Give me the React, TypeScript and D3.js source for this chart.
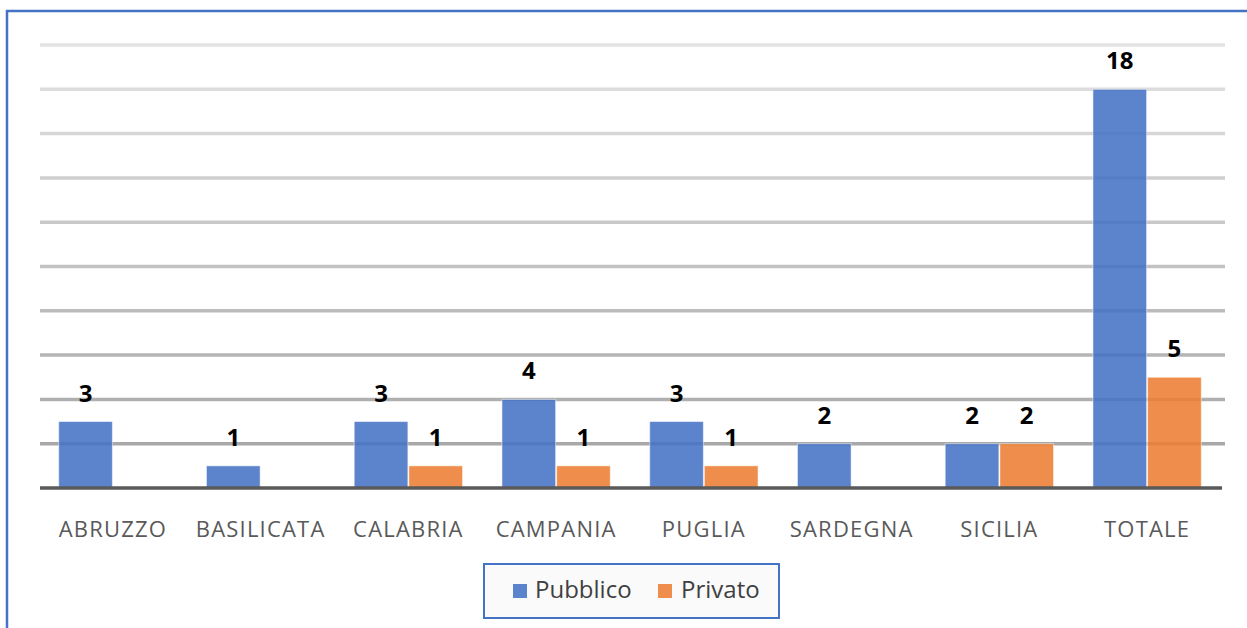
import React from "react";
import * as d3 from "d3";

const categories = ["ABRUZZO", "BASILICATA", "CALABRIA", "CAMPANIA", "PUGLIA", "SARDEGNA", "SICILIA", "TOTALE"];
const seriesNames = ["Pubblico", "Privato"];
const pubblico = [3, 1, 3, 4, 3, 2, 2, 18];
const privato = [0, 0, 1, 1, 1, 0, 2, 5];
const gridValues = [2, 4, 6, 8, 10, 12, 14, 16, 18, 20];
const colors = ["#4472C4", "#ED7D31"];

const W = 1247;
const H = 628;
const FONT = "'Open Sans', 'Noto Sans', sans-serif";

export default function App() {
  const x = d3.scaleBand<string>().domain(categories).range([39, 1221]).paddingInner(0.26).paddingOuter(0.13);
  const xs = d3.scaleBand<string>().domain(seriesNames).range([0, x.bandwidth()]).padding(0);
  const y = d3.scaleLinear().domain([0, 20]).range([488, 45]);
  const gridColor = d3.scaleLinear<string>().domain([2, 20]).range(["#a8a8a8", "#e3e3e3"]);
  const series = [pubblico, privato];

  return (
    <svg width={W} height={H} style={{ position: "absolute", left: 0, top: 0, background: "#fff" }}>
      <rect x={7} y={11} width={1400} height={800} fill="#fff" stroke="#4472C4" strokeWidth={2.5} />
      {gridValues.map((v) => (
        <line key={v} x1={40} x2={1225} y1={y(v)} y2={y(v)} stroke={gridColor(v)} strokeWidth={3.5} />
      ))}
      {categories.map((c, i) => (
        <g key={c} transform={`translate(${x(c)},0)`}>
          {series.map((s, si) =>
            s[i] > 0 ? (
              <rect
                key={si}
                x={xs(seriesNames[si])! + 0.5}
                y={y(s[i])}
                width={xs.bandwidth() - 1}
                height={y(0) - y(s[i])}
                fill={colors[si]}
                fillOpacity={0.87}
                stroke="#ffffff"
                strokeOpacity={0.5}
                strokeWidth={1}
              />
            ) : null
          )}
          {series.map((s, si) =>
            s[i] > 0 ? (
              <text
                key={"l" + si}
                x={xs(seriesNames[si])! + xs.bandwidth() / 2}
                y={y(s[i]) - 20}
                textAnchor="middle"
                fontFamily={FONT}
                fontWeight="bold"
                fontSize={24}
                fill="#000"
              >
                {s[i]}
              </text>
            ) : null
          )}
          <text
            x={x.bandwidth() / 2}
            y={537}
            textAnchor="middle"
            fontFamily={FONT}
            fontSize={22}
            letterSpacing={1.2}
            fill="#595959"
          >
            {c}
          </text>
        </g>
      ))}
      <line x1={40} x2={1222} y1={y(0)} y2={y(0)} stroke="#595959" strokeWidth={3.5} />
      <g>
        <rect x={484} y={564} width={295} height={54} fill="#fafafa" stroke="#4472C4" strokeWidth={2} />
        <rect x={513} y={584} width={14} height={14} fill={colors[0]} fillOpacity={0.87} />
        <text x={535} y={598} fontFamily={FONT} fontSize={24} fill="#404040">{seriesNames[0]}</text>
        <rect x={658} y={584} width={14} height={14} fill={colors[1]} fillOpacity={0.87} />
        <text x={681} y={598} fontFamily={FONT} fontSize={24} fill="#404040">{seriesNames[1]}</text>
      </g>
    </svg>
  );
}
